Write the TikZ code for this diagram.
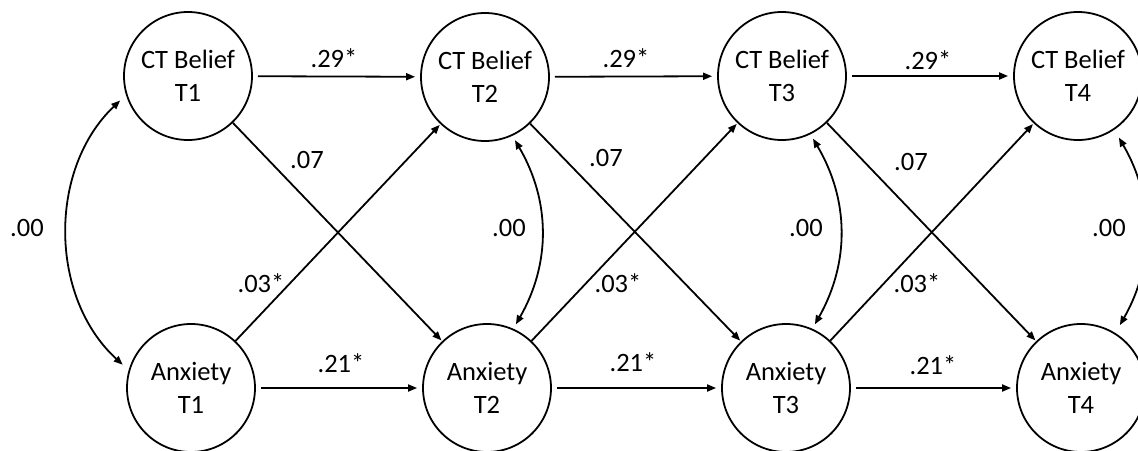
\documentclass[tikz,border=0pt]{standalone}
\usepackage{fontspec}
\setmainfont{Carlito}
\usetikzlibrary{arrows.meta}
\begin{document}
\begin{tikzpicture}[x=1pt,y=-1pt,
  latent/.style={draw, circle, line width=1.8pt, minimum size=128pt, inner sep=0pt,
    align=center, font=\fontsize{26.5}{33.5}\selectfont},
  coef/.style={inner sep=0pt, font=\fontsize{26.5}{33.5}\selectfont},
  path/.style={line width=1.8pt, -{Triangle[length=9pt,width=7pt]}},
  cov/.style={line width=1.8pt, {Triangle[length=9pt,width=7pt]}-{Triangle[length=9pt,width=7pt]}}
]
\useasboundingbox (0,0) rectangle (1138,450);

% latent variables: CT belief (top row) and anxiety (bottom row) at four waves
\node[latent] (ct1) at (188,76)  {CT Belief\\T1};
\node[latent] (ct2) at (485,77)  {CT Belief\\T2};
\node[latent] (ct3) at (782,76)  {CT Belief\\T3};
\node[latent] (ct4) at (1078,76) {CT Belief\\T4};
\node[latent] (ax1) at (191,388) {Anxiety\\T1};
\node[latent] (ax2) at (487,388) {Anxiety\\T2};
\node[latent] (ax3) at (786,388) {Anxiety\\T3};
\node[latent] (ax4) at (1081,388) {Anxiety\\T4};

% autoregressive paths
\draw[path, shorten <=5pt, shorten >=5pt] (ct1) -- (ct2);
\draw[path, shorten <=5pt, shorten >=5pt] (ct2) -- (ct3);
\draw[path, shorten <=5pt, shorten >=5pt] (ct3) -- (ct4);
\draw[path, shorten <=5pt, shorten >=5pt] (ax1) -- (ax2);
\draw[path, shorten <=5pt, shorten >=5pt] (ax2) -- (ax3);
\draw[path, shorten <=5pt, shorten >=5pt] (ax3) -- (ax4);

% cross-lagged paths
\draw[path, shorten >=1pt] (ct1) -- (ax2);
\draw[path, shorten >=1pt] (ct2) -- (ax3);
\draw[path, shorten >=1pt] (ct3) -- (ax4);
\draw[path, shorten >=1pt] (ax1) -- (ct2);
\draw[path, shorten >=1pt] (ax2) -- (ct3);
\draw[path, shorten >=1pt] (ax3) -- (ct4);

% within-wave covariances
\draw[cov, shorten <=8pt, shorten >=8pt] (ct1.197) to[bend right=47] (ax1.164);
\draw[cov, shorten <=5pt, shorten >=5pt] (ct2.-65) to[bend left=30] (ax2.66);
\draw[cov, shorten <=5pt, shorten >=5pt] (ct3.-64) to[bend left=30] (ax3.66);
\draw[cov, shorten <=9pt, shorten >=9pt] (ct4.-56) to[bend left=30] (ax4.58);

% coefficients
\node[coef] (b12) at (334,58)  {.29*};
\node[coef] (b23) at (626,58)  {.29*};
\node[coef] (b34) at (928,60)  {.29*};
\node[coef] (a12) at (341,363) {.21*};
\node[coef] (a23) at (633,362) {.21*};
\node[coef] (a34) at (933,365) {.21*};
\node[coef] (x12) at (307,160) {.07};
\node[coef] (x23) at (606,158) {.07};
\node[coef] (x34) at (911,162) {.07};
\node[coef] (y12) at (261,283) {.03*};
\node[coef] (y23) at (618,283) {.03*};
\node[coef] (y34) at (917,283) {.03*};
\node[coef] (r1) at (27,228)   {.00};
\node[coef] (r2) at (509,228)  {.00};
\node[coef] (r3) at (806,228)  {.00};
\node[coef] (r4) at (1109,228) {.00};
\end{tikzpicture}
\end{document}
